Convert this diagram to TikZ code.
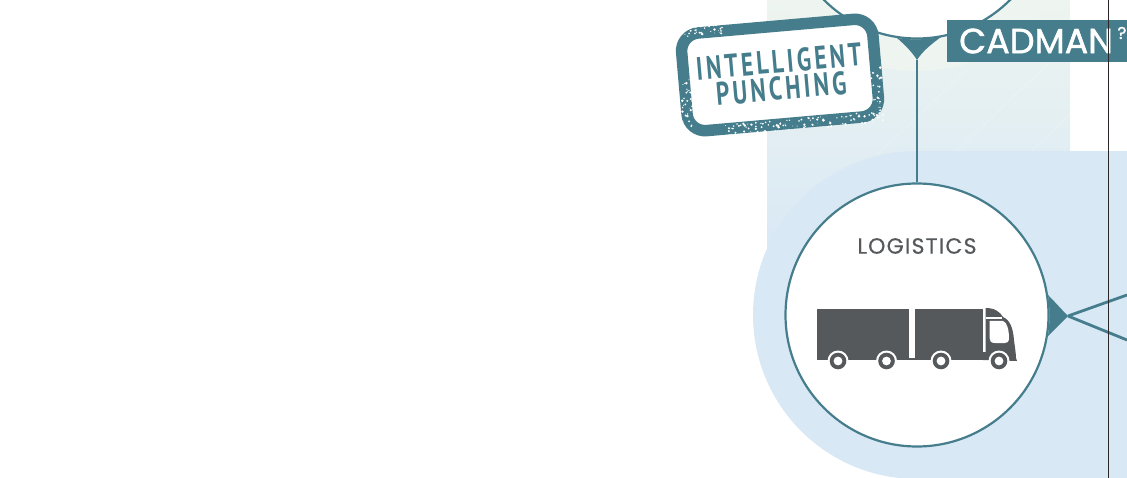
\documentclass[tikz,border=0pt]{standalone}
\usepackage{fontspec}
\setmainfont{Lato}
\newfontfamily\labelfont[LetterSpace=5.5,FakeBold=0.4]{Poppins}
\newfontfamily\tagfont[FakeBold=1.4]{Poppins}
\newfontfamily\stampfont[LetterSpace=10,FakeStretch=0.72]{PT Sans}
\definecolor{tealline}{HTML}{467D8C}
\definecolor{truckgray}{HTML}{55595B}
\definecolor{paleblue}{HTML}{D8E8F5}
\definecolor{palegreen}{HTML}{EEF5F0}
\definecolor{ruleblack}{HTML}{2D2626}
\tikzset{
  bubble/.style={circle, draw=tealline, line width=2.2pt, fill=white, minimum size=263pt, inner sep=0pt},
  halo/.style={circle, fill=#1, minimum size=328pt, inner sep=0pt},
  link/.style={draw=tealline, line width=2.8pt},
  speck/.style={fill=white, draw=none}
}
\begin{document}
\begin{tikzpicture}[x=1pt, y=-1pt]
	\useasboundingbox (0,0) rectangle (1127,478);
	% 1. background bands
	\fill[top color=palegreen, bottom color=paleblue] (767,0) rectangle (1070,255);
	\begin{scope}
		\clip (767,0) rectangle (1070,255);
		\foreach \d in {0,75,...,525}
			\draw[white, opacity=0.35, thin] (767+\d,260) -- (1040+\d,0);
	\end{scope}
	\node[halo=palegreen] (tophalo) at (917,-93) {};
	\node[halo=paleblue] (lowhalo) at (917,315) {};
	\fill[paleblue] (917,151) rectangle (1127,478);

	% 2. circles and connectors
	\node[bubble] (topcircle) at (917,-93) {};
	\node[bubble] (logistics) at (917,315) {};
	\coordinate (topjoint) at (917,60);
	\coordinate (sidejoint) at (1068,316);
	\coordinate (sideup) at (1127,295);
	\coordinate (sidedown) at (1127,340);
	\fill[tealline] (897,38) .. controls (905,45) and (912,52) .. (topjoint)
		.. controls (922,52) and (930,45) .. (941,37) .. controls (925,40) and (910,40) .. cycle;
	\fill[tealline] (1048,295) .. controls (1055,302) and (1062,310) .. (sidejoint)
		.. controls (1062,322) and (1055,329) .. (1048,336) .. controls (1050,322) and (1050,309) .. cycle;
	\draw[link] (topjoint) -- (logistics.north);
	\draw[link] (sidejoint) -- (sideup);
	\draw[link] (sidejoint) -- (sidedown);

	% 3. truck
	\node[text=truckgray, font=\labelfont\fontsize{22}{22}\selectfont] (logisticslabel) at (917,246) {LOGISTICS};
	\fill[truckgray] (817,309) rectangle (909,360);
	\fill[truckgray] (909,357.5) rectangle (915,360);
	\fill[truckgray] (915,309) rectangle (983,360);
	\fill[truckgray] (983,360) -- (983,352) -- (985.5,352) -- (985.5,308) .. controls (995,308) and (1000,312) .. (1003,317)
		.. controls (1010,320) and (1013,328) .. (1014,340) .. controls (1015,348) and (1016,354) .. (1016,358) -- (1017,361) -- cycle;
	\fill[white] (989.5,321) -- (1003,321) .. controls (1007,322) and (1009,330) .. (1009,338)
		.. controls (1009,342) and (1007,343) .. (1005,343) -- (995,343) .. controls (991,343) and (989.5,341) .. (989.5,338) -- cycle;
	\draw[white, line width=1.5pt] (986,318) -- (1002,318);
	\foreach \wx in {838,886.5,941,999} {
		\fill[white] (\wx,361) circle (10.5pt);
		\fill[truckgray] (\wx,361) circle (8.3pt);
		\fill[white] (\wx,361) circle (4.4pt);
	}

	% 4. stamp
	\node[draw=tealline, line width=11.5pt, rounded corners=18pt, fill=white, rotate=5,
		minimum width=192pt, minimum height=98pt, inner sep=0pt, align=center, text=tealline,
		font=\stampfont\bfseries\fontsize{32.5}{27}\selectfont] (stamp) at (780,75) {INTELLIGENT\\PUNCHING};
	\begin{scope}[shift={(stamp.center)}, rotate=5]
		\pgfmathsetseed{4127}
		% rough edges of the stamp
		\foreach \i in {1,...,110} {
			\pgfmathsetmacro{\sx}{-60+160*rnd}
			\pgfmathsetmacro{\sy}{45+11*rnd}
			\pgfmathsetmacro{\sr}{0.3+1.1*rnd}
			\fill[speck] (\sx,\sy) circle (\sr pt);
		}
		\foreach \i in {1,...,30} {
			\pgfmathsetmacro{\sx}{-101+11*rnd}
			\pgfmathsetmacro{\sy}{-5+55*rnd}
			\pgfmathsetmacro{\sr}{0.3+1.1*rnd}
			\fill[speck] (\sx,\sy) circle (\sr pt);
			\pgfmathsetmacro{\sx}{90+11*rnd}
			\pgfmathsetmacro{\sy}{0+55*rnd}
			\fill[speck] (\sx,\sy) circle (\sr pt);
			\pgfmathsetmacro{\sx}{-92+40*rnd}
			\pgfmathsetmacro{\sy}{-56+10*rnd}
			\fill[speck] (\sx,\sy) circle (\sr pt);
		}
	\end{scope}

	% 5. name tag and rule
	\node[fill=tealline, text=white, anchor=west, minimum width=180pt, minimum height=42pt, inner sep=0pt,
		text width=180pt, align=left, font=\tagfont\fontsize{35}{35}\selectfont] (cadman) at (947,41) {\hspace*{12pt}CADMAN};
	\node[text=white, font=\tagfont\fontsize{17}{17}\selectfont, inner sep=0pt] (cadmanmark) at (1122,33) {?};
	\draw[ruleblack, line width=1.6pt] (1108.5,0) -- (1108.5,478);
\end{tikzpicture}
\end{document}
